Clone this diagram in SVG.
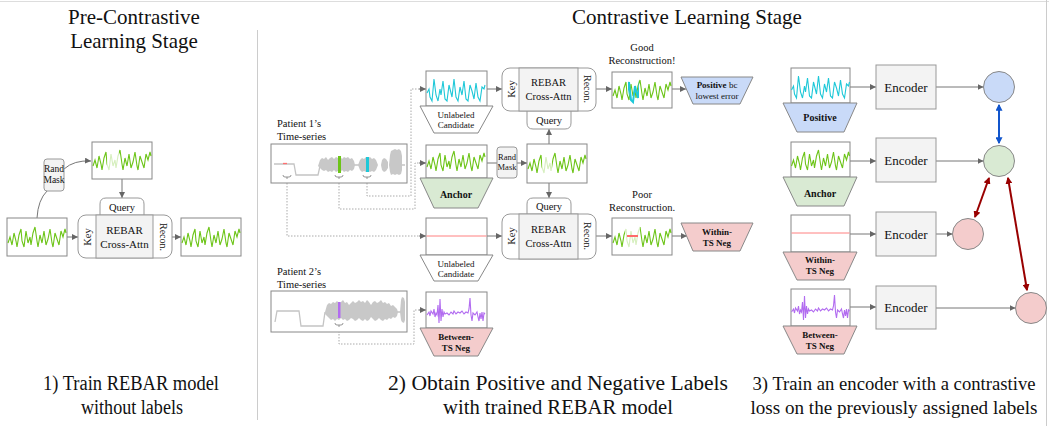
<svg xmlns="http://www.w3.org/2000/svg" width="1049" height="426" viewBox="0 0 1049 426" font-family="'Liberation Serif', Tinos, 'DejaVu Serif', 'Noto Serif', serif">
<style>
text{font-family:"Liberation Serif",Tinos,"DejaVu Serif","Noto Serif",serif;fill:#111}
.h{font-size:21px;text-anchor:middle}
.b{font-size:20.5px;text-anchor:middle}
.b3{font-size:19px;text-anchor:middle}
.m{font-size:10.5px;text-anchor:middle}
.s{font-size:9px;text-anchor:middle}
.bold{font-weight:bold}
.enct{font-size:13px;text-anchor:middle}
.box{fill:#fff;stroke:#888;stroke-width:1}
.gray{fill:#f3f3f3;stroke:#999;stroke-width:1}
.rnd{fill:#fff;stroke:#999;stroke-width:1}
.wg{fill:none;stroke:#6cc417;stroke-width:1.1}
.wc{fill:none;stroke:#1ec8d8;stroke-width:1.1}
.wp{fill:none;stroke:#b26cf0;stroke-width:1.1}
.fade{fill:#fff;opacity:0.72}
.conn{fill:none;stroke:#777;stroke-width:1;marker-end:url(#ah)}
.line{fill:none;stroke:#777;stroke-width:1}
.dot{fill:none;stroke:#aaa;stroke-width:1;stroke-dasharray:1.5 1.5}
.brk{fill:none;stroke:#888;stroke-width:0.9}
.blob{fill:#c8c8c8;stroke:none}
.tsl{fill:none;stroke:#c4c4c4;stroke-width:1.3}
.tw{fill:#fff;stroke:#888}
.tg{fill:#d9ead3;stroke:#888}
.tb{fill:#c9daf8;stroke:#888}
.tr{fill:#f4cccc;stroke:#888}
</style>
<defs>
<marker id="ah" viewBox="0 0 6 6" refX="6" refY="3" markerWidth="6" markerHeight="6" markerUnits="userSpaceOnUse" orient="auto"><path d="M0,0 L6,3 L0,6 z" fill="#666"/></marker>
<marker id="ab" viewBox="0 0 6 6" refX="5" refY="3" markerWidth="7" markerHeight="7" markerUnits="userSpaceOnUse" orient="auto-start-reverse"><path d="M0,0 L6,3 L0,6 z" fill="#1155cc"/></marker>
<marker id="ar" viewBox="0 0 6 6" refX="5" refY="3" markerWidth="7" markerHeight="7" markerUnits="userSpaceOnUse" orient="auto-start-reverse"><path d="M0,0 L6,3 L0,6 z" fill="#990000"/></marker>
<path id="wvg" d="M0,20 L2,14 L4,22 L6,10 L8,18 L9,24 L11,12 L13,6 L14,18 L16,24 L18,8 L20,20 L22,14 L23,22 L25,10 L27,4 L29,18 L30,24 L32,12 L34,20 L36,8 L38,22 L40,16 L42,6 L44,20 L45,24 L47,10 L49,16 L51,22 L53,8 L55,14 L57,6 L58,10"/>
<path id="wvc" d="M0,18 L2,14 L3,22 L5,26 L7,4 L9,20 L11,26 L13,14 L14,20 L16,6 L18,24 L20,26 L22,10 L24,18 L25,22 L27,4 L29,22 L31,26 L33,12 L35,20 L37,6 L39,24 L41,26 L43,10 L45,16 L47,24 L49,8 L51,22 L53,26 L55,12 L57,14 L58,10"/>
<path id="wvp" d="M0,20 L2,17 L3,21 L4,16 L6,19 L7,14 L8,22 L9,18 L10,20 L11,10 L12,28 L13,4 L14,26 L15,14 L16,22 L17,17 L18,19 L20,18 L22,20 L24,17 L26,19 L27,16 L29,19 L31,17 L33,18 L35,16 L37,19 L39,17 L41,18 L42,14 L43,3 L44,20 L45,26 L46,18 L48,20 L50,17 L51,22 L52,26 L53,18 L54,24 L55,17 L56,26 L57,18 L58,19"/>
<clipPath id="segc"><rect x="15" y="0" width="11" height="36"/></clipPath>
</defs>

<rect x="0" y="0" width="1049" height="426" fill="#fff"/>
<g id="frame">
<line x1="0" y1="1.5" x2="1049" y2="1.5" stroke="#ddd"/>
<line x1="1046.5" y1="0" x2="1046.5" y2="426" stroke="#ccc"/>
<line x1="257.5" y1="30" x2="257.5" y2="420" stroke="#ccc"/>
</g>

<g id="titles">
<text class="h" x="134" y="24">Pre-Contrastive</text>
<text class="h" x="134" y="48">Learning Stage</text>
<text class="h" x="687" y="24">Contrastive Learning Stage</text>
<text class="b" x="131" y="390" textLength="176" lengthAdjust="spacingAndGlyphs">1) Train REBAR model</text>
<text class="b" x="132" y="414" textLength="102" lengthAdjust="spacingAndGlyphs">without labels</text>
<text class="b" x="558" y="390" textLength="340" lengthAdjust="spacingAndGlyphs">2) Obtain Positive and Negative Labels</text>
<text class="b" x="558" y="414" textLength="230" lengthAdjust="spacingAndGlyphs">with trained REBAR model</text>
<text class="b3" x="894" y="390" textLength="283" lengthAdjust="spacingAndGlyphs">3) Train an encoder with a contrastive</text>
<text class="b3" x="894" y="414" textLength="287" lengthAdjust="spacingAndGlyphs">loss on the previously assigned labels</text>
</g>

<g id="connectors">
<path class="conn" d="M67,237 H78"/>
<path class="conn" d="M172,237 H181"/>
<path class="conn" d="M122,179 V198"/>
<path class="line" d="M37,218 Q38,200 47,191"/>
<path class="conn" d="M64,169 Q74,160 91,161"/>
<path class="dot" d="M367,180 V196 H411 V89 H420"/>
<path class="dot" d="M339,180 V209 H415 V163 H420"/>
<path class="dot" d="M287,180 V236 H420"/>
<path class="dot" d="M339,328 V344 H414 V310 H420"/>
<path class="conn" d="M419,89 H426"/>
<path class="conn" d="M419,163 H426"/>
<path class="conn" d="M419,236 H426"/>
<path class="conn" d="M419,310 H426"/>
<path class="conn" d="M487,89 H502"/>
<path class="conn" d="M596,89 H612"/>
<path class="conn" d="M672,89 H686"/>
<path class="line" d="M487,163 H497"/>
<path class="conn" d="M517,163 H527"/>
<path class="conn" d="M549,144 V129"/>
<path class="conn" d="M549,183 V198"/>
<path class="conn" d="M487,236 H502"/>
<path class="conn" d="M596,236 H612"/>
<path class="conn" d="M672,236 H687"/>
<path class="conn" d="M850,87 H876"/>
<path class="conn" d="M936,87 H983.5"/>
<path class="conn" d="M850,161 H876"/>
<path class="conn" d="M936,161 H983.5"/>
<path class="conn" d="M850,234 H876"/>
<path class="conn" d="M936,234 H952.5"/>
<path class="conn" d="M850,307 H876"/>
<path class="conn" d="M936,308 H1015.5"/>
<path d="M999,105 V143" fill="none" stroke="#1155cc" stroke-width="2" marker-start="url(#ab)" marker-end="url(#ab)"/>
<path d="M989,178 L975,217" fill="none" stroke="#990000" stroke-width="2" marker-start="url(#ar)" marker-end="url(#ar)"/>
<path d="M1008,178 L1027,290" fill="none" stroke="#990000" stroke-width="2" marker-start="url(#ar)" marker-end="url(#ar)"/>
</g>

<!-- LEFT PANEL -->
<g id="pre-input">
<rect class="box" x="7" y="218" width="60" height="38"/>
<use href="#wvg" class="wg" transform="translate(8,223)"/>
</g>
<g id="pre-randmask">
<rect class="gray" x="44" y="159" width="20" height="32" rx="3"/>
<text class="s" x="54" y="172" style="font-size:9.5px">Rand</text>
<text class="s" x="54" y="183" style="font-size:9.5px">Mask</text>
</g>
<g id="pre-masked">
<rect class="box" x="92" y="142" width="60" height="37"/>
<use href="#wvg" class="wg" transform="translate(93,146)"/>
<rect class="fade" x="107" y="143" width="12" height="35"/>
</g>
<g id="pre-rebar">
<path class="rnd" d="M100,215 V204 Q100,198 106,198 H138 Q144,198 144,204 V215"/>
<rect class="rnd" x="78" y="215" width="94" height="43" rx="8"/>
<rect class="gray" x="96" y="215" width="57" height="43"/>
<text class="m" x="122" y="211">Query</text>
<text class="m" transform="translate(87,237) rotate(-90)" dy="0.35em">Key</text>
<text class="m" transform="translate(163,237) rotate(90)" dy="0.35em" style="font-size:10px">Recon.</text>
<text class="m" x="124.5" y="234" style="font-size:11px">REBAR</text>
<text class="m" x="124.5" y="248" style="font-size:11px">Cross-Attn</text>
</g>
<g id="pre-output">
<rect class="box" x="181" y="218" width="60" height="38"/>
<use href="#wvg" class="wg" transform="translate(182,223)"/>
</g>

<!-- MIDDLE PANEL -->
<g id="patient1">
<text x="277" y="127" style="font-size:10.5px">Patient 1’s</text>
<text x="277" y="140" style="font-size:10.5px">Time-series</text>
<rect class="box" x="271" y="144" width="136" height="39"/>
<path class="tsl" d="M274,164 H294 L296,175 H318 L320,166 M354,165 H359 M400,165 H405"/>
<path d="M283,163.5 H287" stroke="#ff7070" stroke-width="1.3"/>
<polygon class="blob" points="318,166 320,160 322,158 324,159 326,157 328,160 330,158 332,157 334,159 336,157 338,158 340,156 342,159 344,157 346,158 348,157 350,159 352,158 354,161 355,165 354,169 352,171 350,170 348,172 346,171 344,172 342,170 340,173 338,171 336,172 334,170 332,172 330,171 328,172 326,170 324,171 322,170 320,168"/>
<polygon class="blob" points="358,165 360,160 362,158 364,159 366,157 368,158 370,157 372,159 374,158 376,160 378,165 376,170 374,172 372,171 370,172 368,171 366,172 364,171 362,172 360,170"/>
<polygon class="blob" points="381,165 382,160 384,158 386,159 388,162 388,168 386,171 384,172 382,170"/>
<polygon class="blob" points="389,165 390,155 391,151 393,150 395,149 397,150 399,149 401,151 402,156 402,170 401,174 399,175 397,174 395,175 393,174 391,175 390,172"/>
<rect x="338" y="156" width="3" height="17" fill="#6cc417"/>
<rect x="366" y="157" width="3" height="15" fill="#1ec8d8"/>
<path class="brk" d="M283,175 q0,2 2,2 h4 q2,0 2,-2 M287,177 v2 M335,175 q0,2 2,2 h4 q2,0 2,-2 M339,177 v2 M363,175 q0,2 2,2 h4 q2,0 2,-2 M367,177 v2"/>
</g>
<g id="patient2">
<text x="277" y="275" style="font-size:10.5px">Patient 2’s</text>
<text x="277" y="288" style="font-size:10.5px">Time-series</text>
<rect class="box" x="271" y="291" width="136" height="41"/>
<path class="tsl" d="M275,322 L277,311 H299 L301,326 H323 L325,312 M397,312 H401"/>
<polygon class="blob" points="325,312 327,305 329,303 331,304 333,302 335,303 337,301 339,303 341,302 343,300 345,303 347,302 349,305 351,303 353,301 355,303 357,302 359,300 361,302 363,301 365,303 367,300 369,302 371,305 373,302 375,301 377,303 379,302 381,300 383,303 385,302 387,304 389,303 391,306 393,305 395,307 397,309 398,312 397,316 395,318 393,317 391,319 389,318 387,320 385,319 383,321 381,320 379,318 377,320 375,321 373,319 371,317 369,320 367,321 365,319 363,321 361,320 359,318 357,320 355,321 353,319 351,318 349,320 347,321 345,319 343,320 341,318 339,320 337,319 335,321 333,319 331,320 329,318 327,316 325,314"/>
<polygon class="blob" points="400,312 401,300 402,297 404,298 405,302 405,320 404,323 402,322 401,320"/>
<rect x="338" y="302" width="2.5" height="16" fill="#b26cf0"/>
<path class="brk" d="M335,323 q0,2 2,2 h4 q2,0 2,-2 M339,325 v2"/>
</g>

<g id="cand-top">
<rect class="box" x="426" y="71" width="61" height="35"/>
<use href="#wvc" class="wc" transform="translate(427,75)"/>
<polygon class="tw" points="420,106 493,106 478,133 434,133"/>
<text class="s" x="456" y="118">Unlabeled</text>
<text class="s" x="456" y="128">Candidate</text>
</g>
<g id="anchor-mid">
<rect class="box" x="426" y="145" width="61" height="33"/>
<use href="#wvg" class="wg" transform="translate(427,147)"/>
<polygon class="tg" points="420,178 493,178 478,208 434,208"/>
<text class="s bold" x="456" y="198" style="font-size:10px">Anchor</text>
</g>
<g id="cand-within">
<rect class="box" x="426" y="218" width="61" height="37"/>
<path d="M426.5,236 H486.5" stroke="#ff8080" stroke-width="1"/>
<polygon class="tw" points="420,255 493,255 478,281 434,281"/>
<text class="s" x="456" y="267">Unlabeled</text>
<text class="s" x="456" y="277">Candidate</text>
</g>
<g id="between-mid">
<rect class="box" x="426" y="292" width="61" height="36"/>
<use href="#wvp" class="wp" transform="translate(427,295)"/>
<polygon class="tr" points="420,328 493,328 478,356 434,356"/>
<text class="s bold" x="456" y="340">Between-</text>
<text class="s bold" x="456" y="351">TS Neg</text>
</g>

<g id="rebar-top">
<path class="rnd" d="M527,111 V123 Q527,129 533,129 H565 Q571,129 571,123 V111"/>
<rect class="rnd" x="502" y="68" width="94" height="43" rx="8"/>
<rect class="gray" x="519" y="68" width="59" height="43"/>
<text class="m" x="549" y="124">Query</text>
<text class="m" transform="translate(511,89) rotate(-90)" dy="0.35em">Key</text>
<text class="m" transform="translate(587,89) rotate(90)" dy="0.35em" style="font-size:10px">Recon.</text>
<text class="m" x="548.5" y="86">REBAR</text>
<text class="m" x="548.5" y="100">Cross-Attn</text>
</g>
<g id="randmask-mid">
<rect class="gray" x="497" y="147" width="20" height="31" rx="3"/>
<text class="s" x="507" y="160" style="font-size:8.5px">Rand</text>
<text class="s" x="507" y="170" style="font-size:8.5px">Mask</text>
</g>
<g id="masked-mid">
<rect class="box" x="527" y="144" width="60" height="39"/>
<use href="#wvg" class="wg" transform="translate(528,149)"/>
<rect class="fade" x="542" y="145" width="10" height="37"/>
</g>
<g id="rebar-bottom">
<path class="rnd" d="M527,214 V204 Q527,198 533,198 H565 Q571,198 571,204 V214"/>
<rect class="rnd" x="502" y="214" width="94" height="45" rx="8"/>
<rect class="gray" x="519" y="214" width="59" height="45"/>
<text class="m" x="549" y="210">Query</text>
<text class="m" transform="translate(511,236) rotate(-90)" dy="0.35em">Key</text>
<text class="m" transform="translate(587,236) rotate(90)" dy="0.35em" style="font-size:10px">Recon.</text>
<text class="m" x="548.5" y="233">REBAR</text>
<text class="m" x="548.5" y="247">Cross-Attn</text>
</g>
<g id="recon-good">
<text class="m" x="642" y="51">Good</text>
<text class="m" x="642" y="64">Reconstruction!</text>
<rect class="box" x="612" y="72" width="60" height="36"/>
<g transform="translate(613,76)">
<use href="#wvg" class="wg"/>
<use href="#wvc" class="wc" style="stroke-width:2" clip-path="url(#segc)"/>
</g>
</g>
<g id="recon-poor">
<text class="m" x="642" y="198">Poor</text>
<text class="m" x="642" y="211">Reconstruction.</text>
<rect class="box" x="612" y="218" width="60" height="37"/>
<use href="#wvg" class="wg" transform="translate(613,223)"/>
<rect class="fade" x="625" y="219" width="15" height="35"/>
<path d="M627,236 H638" stroke="#ff6b6b" stroke-width="2"/>
</g>
<g id="positive-label">
<polygon class="tb" points="681,77 753,77 740,104 693,104"/>
<text class="s" x="717" y="88"><tspan class="bold">Positive</tspan> bc</text>
<text class="s" x="717" y="99">lowest error</text>
</g>
<g id="within-label">
<polygon class="tr" points="681,223 753,223 740,251 693,251"/>
<text class="s bold" x="717" y="235">Within-</text>
<text class="s bold" x="717" y="246">TS Neg</text>
</g>

<!-- RIGHT PANEL -->
<g id="r-positive">
<rect class="box" x="791" y="68" width="59" height="35"/>
<use href="#wvc" class="wc" transform="translate(791.5,72)"/>
<polygon class="tb" points="783,103 857,103 844,132 797,132"/>
<text class="s bold" x="820" y="121" style="font-size:10px">Positive</text>
</g>
<g id="r-anchor">
<rect class="box" x="791" y="142" width="59" height="35"/>
<use href="#wvg" class="wg" transform="translate(791.5,146)"/>
<polygon class="tg" points="783,177 857,177 844,206 797,206"/>
<text class="s bold" x="820" y="197" style="font-size:10px">Anchor</text>
</g>
<g id="r-within">
<rect class="box" x="791" y="215" width="59" height="37"/>
<path d="M791.5,233 H849.5" stroke="#ff8080" stroke-width="1"/>
<polygon class="tr" points="783,252 857,252 844,280 797,280"/>
<text class="s bold" x="820" y="263">Within-</text>
<text class="s bold" x="820" y="274">TS Neg</text>
</g>
<g id="r-between">
<rect class="box" x="791" y="289" width="59" height="37"/>
<use href="#wvp" class="wp" transform="translate(791.5,292)"/>
<polygon class="tr" points="783,326 857,326 844,354 797,354"/>
<text class="s bold" x="820" y="338">Between-</text>
<text class="s bold" x="820" y="349">TS Neg</text>
</g>
<g id="enc1"><rect class="gray" x="876" y="65" width="60" height="44"/><text class="enct" x="906" y="91.5">Encoder</text></g>
<g id="enc2"><rect class="gray" x="876" y="138" width="60" height="44"/><text class="enct" x="906" y="164.5">Encoder</text></g>
<g id="enc3"><rect class="gray" x="876" y="212" width="60" height="44"/><text class="enct" x="906" y="238.5">Encoder</text></g>
<g id="enc4"><rect class="gray" x="876" y="286" width="60" height="43"/><text class="enct" x="906" y="312">Encoder</text></g>
<g id="emb-positive"><circle cx="999" cy="87" r="15.5" fill="#c9daf8" stroke="#888"/></g>
<g id="emb-anchor"><circle cx="999" cy="161" r="15.5" fill="#d9ead3" stroke="#888"/></g>
<g id="emb-within"><circle cx="968" cy="234" r="15.5" fill="#f4cccc" stroke="#888"/></g>
<g id="emb-between"><circle cx="1031" cy="308" r="15.5" fill="#f4cccc" stroke="#888"/></g>
</svg>
